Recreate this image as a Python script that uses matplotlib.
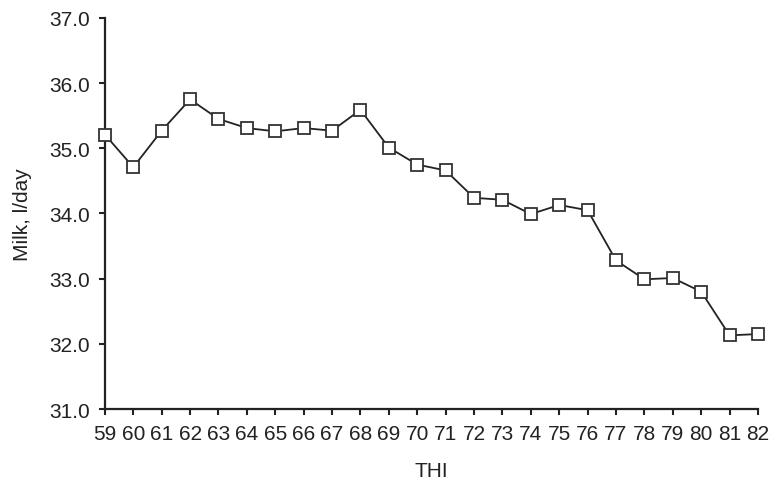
import matplotlib
matplotlib.use("Agg")
import matplotlib.pyplot as plt

plt.rcParams["font.family"] = ["Liberation Sans", "DejaVu Sans"]

thi = [59, 60, 61, 62, 63, 64, 65, 66, 67, 68, 69, 70,
       71, 72, 73, 74, 75, 76, 77, 78, 79, 80, 81, 82]
milk = [35.21, 34.71, 35.27, 35.75, 35.45, 35.31, 35.26, 35.31, 35.27, 35.59, 35.01, 34.75,
        34.66, 34.24, 34.21, 33.99, 34.13, 34.05, 33.28, 32.99, 33.01, 32.80, 32.13, 32.15]
yticks = [31.0, 32.0, 33.0, 34.0, 35.0, 36.0, 37.0]

fig = plt.figure(figsize=(7.77, 4.85), dpi=100)
ax = fig.add_axes([0.135, 0.1546, 0.8405, 0.8064])

ax.plot(thi, milk, color="#222222", lw=1.3, marker="s", ms=8.5,
        mfc="white", mec="#333333", mew=1.3, clip_on=False, zorder=3)

ax.set_xlim(59, 82)
ax.set_ylim(31, 37)
ax.set_xticks(thi)
ax.set_yticks(yticks)
ax.set_yticklabels([f"{v:.1f}" for v in yticks])
ax.tick_params(axis="both", direction="out", length=4.5, width=1.5, labelsize=15,
               colors="#222222", pad=6)
ax.spines[["top", "right"]].set_visible(False)
for s in ("left", "bottom"):
    ax.spines[s].set_linewidth(1.6)
    ax.spines[s].set_color("#222222")

ax.set_xlabel("THI", fontsize=15, color="#222222")
ax.set_ylabel("Milk, l/day", fontsize=15, color="#222222")
ax.xaxis.set_label_coords(0.5, -0.134)
ax.yaxis.set_label_coords(-0.112, 0.5)

fig.savefig("out.png", dpi=100)
